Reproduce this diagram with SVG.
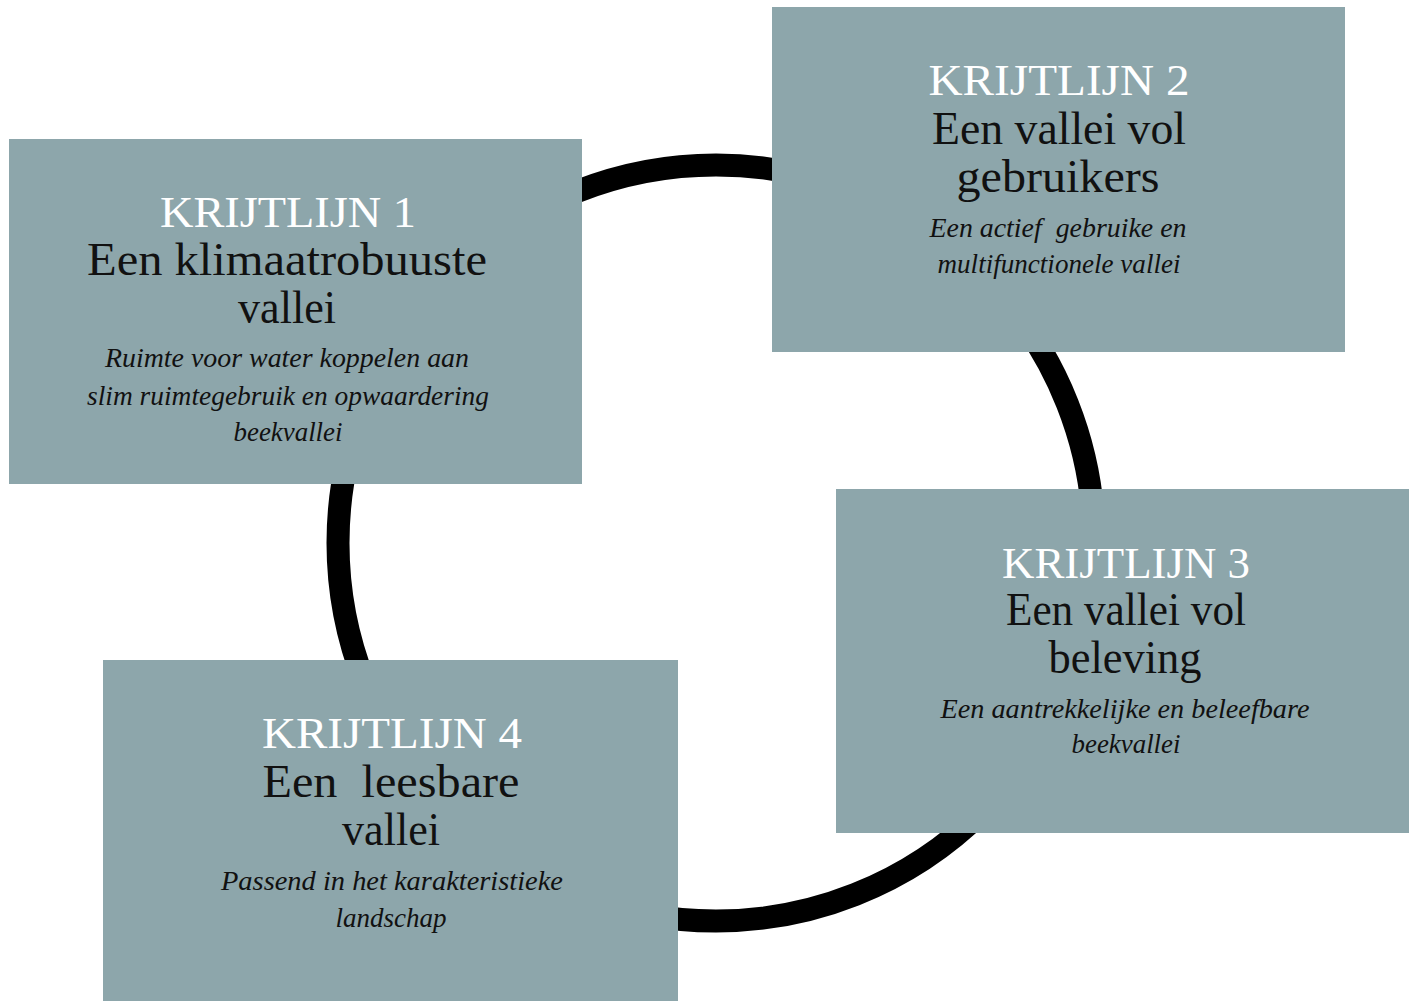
<svg xmlns="http://www.w3.org/2000/svg" width="1409" height="1001" viewBox="0 0 1409 1001">
<style>
.box{fill:#8DA6AB}
.ring{fill:none;stroke:#000;stroke-width:23}
text{font-family:"Liberation Serif","Times New Roman",serif;text-anchor:middle}
.t{fill:#fff;font-size:44px}
.h{fill:#111;font-size:46px}
.s{fill:#111;font-size:27px;font-style:italic}
</style>
<rect width="1409" height="1001" fill="#fff"/>
<g id="connectors">
<circle class="ring" cx="716" cy="543" r="378"/>
</g>
<g id="node1">
<rect class="box" x="9" y="139" width="573" height="345"/>
<text class="t" x="288" y="227" textLength="256" lengthAdjust="spacingAndGlyphs">KRIJTLIJN 1</text>
<text class="h" x="287" y="275" textLength="400" lengthAdjust="spacingAndGlyphs">Een klimaatrobuuste</text>
<text class="h" x="287" y="323" textLength="98" lengthAdjust="spacingAndGlyphs">vallei</text>
<text class="s" x="287" y="367" textLength="364" lengthAdjust="spacingAndGlyphs">Ruimte voor water koppelen aan</text>
<text class="s" x="288" y="405" textLength="402" lengthAdjust="spacingAndGlyphs">slim ruimtegebruik en opwaardering</text>
<text class="s" x="288" y="441" textLength="109" lengthAdjust="spacingAndGlyphs">beekvallei</text>
</g>
<g id="node2">
<rect class="box" x="772" y="7" width="573" height="345"/>
<text class="t" x="1059" y="95" textLength="261" lengthAdjust="spacingAndGlyphs">KRIJTLIJN 2</text>
<text class="h" x="1059" y="144" textLength="254" lengthAdjust="spacingAndGlyphs">Een vallei vol</text>
<text class="h" x="1058" y="192" textLength="203" lengthAdjust="spacingAndGlyphs">gebruikers</text>
<text class="s" x="1058" y="237" xml:space="preserve" textLength="257" lengthAdjust="spacingAndGlyphs">Een actief  gebruike en</text>
<text class="s" x="1059" y="273" textLength="243" lengthAdjust="spacingAndGlyphs">multifunctionele vallei</text>
</g>
<g id="node3">
<rect class="box" x="836" y="489" width="573" height="344"/>
<text class="t" x="1126" y="578" textLength="248" lengthAdjust="spacingAndGlyphs">KRIJTLIJN 3</text>
<text class="h" x="1126" y="625" textLength="240" lengthAdjust="spacingAndGlyphs">Een vallei vol</text>
<text class="h" x="1125" y="673" textLength="153" lengthAdjust="spacingAndGlyphs">beleving</text>
<text class="s" x="1125" y="718" textLength="369" lengthAdjust="spacingAndGlyphs">Een aantrekkelijke en beleefbare</text>
<text class="s" x="1126" y="753" textLength="109" lengthAdjust="spacingAndGlyphs">beekvallei</text>
</g>
<g id="node4">
<rect class="box" x="103" y="660" width="575" height="341"/>
<text class="t" x="392" y="748" textLength="260" lengthAdjust="spacingAndGlyphs">KRIJTLIJN 4</text>
<text class="h" x="391" y="797" xml:space="preserve" textLength="257" lengthAdjust="spacingAndGlyphs">Een  leesbare</text>
<text class="h" x="391" y="845" textLength="98" lengthAdjust="spacingAndGlyphs">vallei</text>
<text class="s" x="392" y="890" textLength="342" lengthAdjust="spacingAndGlyphs">Passend in het karakteristieke</text>
<text class="s" x="391" y="927" textLength="111" lengthAdjust="spacingAndGlyphs">landschap</text>
</g>
</svg>
